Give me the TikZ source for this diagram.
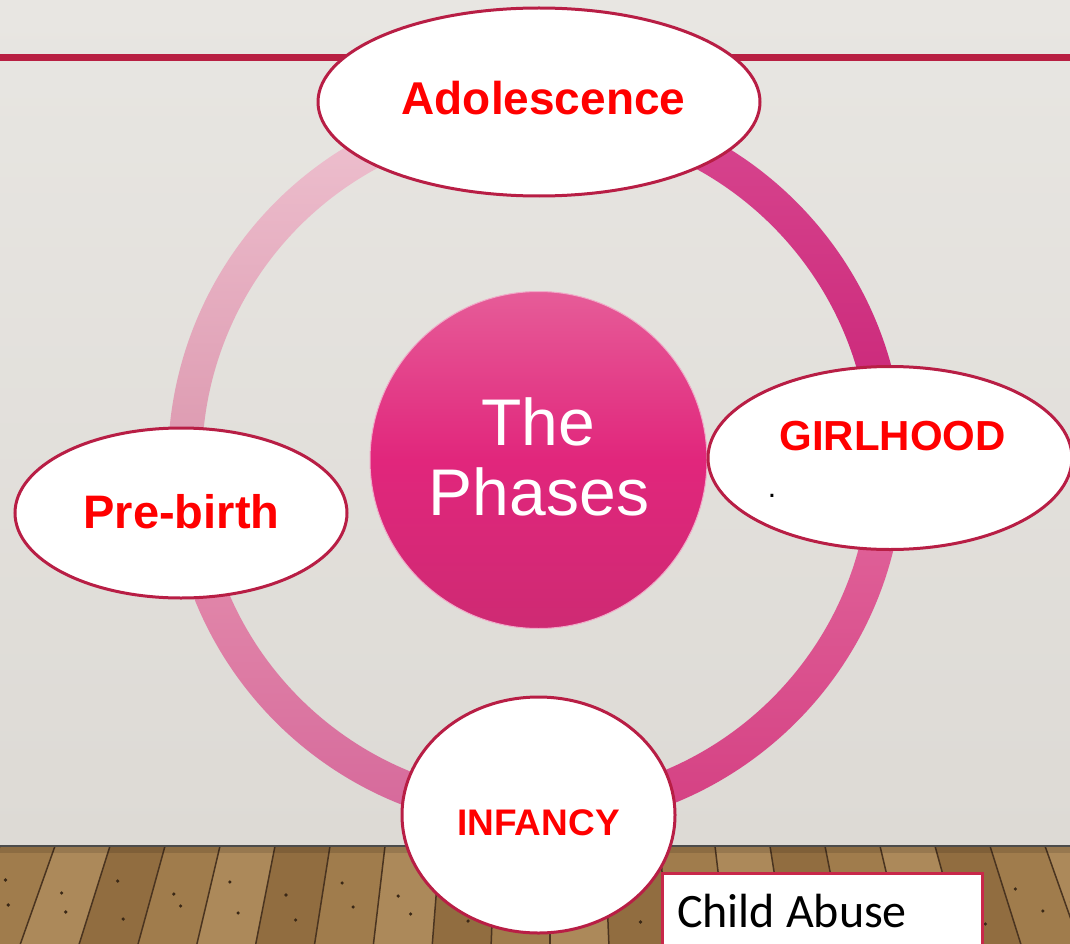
\documentclass[tikz,border=0pt]{standalone}
\usepackage{fontspec}
\setmainfont{Liberation Sans}
\newfontfamily\carlito{Carlito}
\usetikzlibrary{shapes.geometric}
\definecolor{wallTop}{HTML}{E8E6E2}
\definecolor{wallBot}{HTML}{DDDAD5}
\definecolor{rulered}{HTML}{B81F42}
\definecolor{edgered}{HTML}{B81E45}
\definecolor{labred}{HTML}{FF0000}
\definecolor{woodA}{HTML}{A07C4C}
\definecolor{woodB}{HTML}{916D40}
\definecolor{woodC}{HTML}{AC895A}
\definecolor{gap}{HTML}{4A3420}
\definecolor{nail}{HTML}{3A2816}
\definecolor{boxred}{HTML}{C8284A}
\tikzset{
  phase/.style={ellipse, draw=edgered, line width=3pt, fill=white, inner sep=0pt},
  phaselabel/.style={anchor=base, text=labred, font=\fontsize{46}{54}\selectfont\bfseries, inner sep=0pt},
  sector/.style={draw=none},
}
\begin{document}
\begin{tikzpicture}[x=1pt,y=-1pt]
\useasboundingbox (0,0) rectangle (1070,944);
\clip (0,0) rectangle (1070,944);
% wall
\shade[top color=wallTop, bottom color=wallBot] (0,0) rectangle (1070,846);
% floor planks
\foreach \i in {-1,...,20}{
  \pgfmathsetmacro{\xa}{\i*55}
  \pgfmathsetmacro{\xb}{\xa+55}
  \pgfmathsetmacro{\ba}{\xa+0.07*(\xa-550)}
  \pgfmathsetmacro{\bb}{\xb+0.07*(\xb-550)}
  \pgfmathtruncatemacro{\m}{mod(\i+3,3)}
  \ifnum\m=0 \def\wc{woodA}\fi
  \ifnum\m=1 \def\wc{woodC}\fi
  \ifnum\m=2 \def\wc{woodB}\fi
  \fill[\wc] (\xa,846) -- (\xb,846) -- (\bb,944) -- (\ba,944) -- cycle;
  \draw[gap, line width=1.5pt] (\xa,846) -- (\ba,944);
  \pgfmathsetmacro{\na}{\xa+0.3*55+0.02*(\xa-550)}
  \pgfmathsetmacro{\nb}{\xa+0.6*55+0.045*(\xa-550)}
  \pgfmathsetmacro{\ya}{880+mod(\i*13,25)}
  \pgfmathsetmacro{\yb}{905+mod(\i*7,20)}
  \fill[nail] (\na,\ya) circle (1.8);
  \fill[nail] (\nb,\yb) circle (1.8);
}
\shade[top color=black, bottom color=black, opacity=0.12] (0,846) rectangle (1070,852);
\draw[black!70, line width=2pt] (0,846) -- (1070,846);
% red rule
\draw[rulered, line width=6.5pt] (0,57.5) -- (1070,57.5);
% ring sectors
\def\cx{536}\def\cy{462}\def\ro{368}\def\ri{334}
\shade[sector, top color={rgb,255:red,239;green,195;blue,209}, bottom color={rgb,255:red,218;green,147;blue,171}]
  ([shift={(\cx,\cy)}]172:\ro) arc[start angle=172, end angle=270, radius=\ro]
  -- ([shift={(\cx,\cy)}]270:\ri) arc[start angle=270, end angle=172, radius=\ri] -- cycle;
\shade[sector, top color={rgb,255:red,229;green,144;blue,174}, bottom color={rgb,255:red,213;green,103;blue,154}]
  ([shift={(\cx,\cy)}]90:\ro) arc[start angle=90, end angle=172, radius=\ro]
  -- ([shift={(\cx,\cy)}]172:\ri) arc[start angle=172, end angle=90, radius=\ri] -- cycle;
\shade[sector, top color={rgb,255:red,226;green,104;blue,157}, bottom color={rgb,255:red,212;green,63;blue,130}]
  ([shift={(\cx,\cy)}]0:\ro) arc[start angle=0, end angle=90, radius=\ro]
  -- ([shift={(\cx,\cy)}]90:\ri) arc[start angle=90, end angle=0, radius=\ri] -- cycle;
\shade[sector, top color={rgb,255:red,216;green,72;blue,144}, bottom color={rgb,255:red,201;green,34;blue,118}]
  ([shift={(\cx,\cy)}]-90:\ro) arc[start angle=-90, end angle=0, radius=\ro]
  -- ([shift={(\cx,\cy)}]0:\ri) arc[start angle=0, end angle=-90, radius=\ri] -- cycle;
% centre circle
\node[circle, minimum size=337pt, inner sep=0pt, draw={rgb,255:red,240;green,170;blue,200}, line width=1pt,
  top color={rgb,255:red,230;green,92;blue,152}, bottom color={rgb,255:red,206;green,42;blue,115},
  middle color={rgb,255:red,225;green,38;blue,124}] (phases) at (538.5,460) {};
\node[anchor=base, text=white, font=\fontsize{66}{70}\selectfont, inner sep=0pt] (the) at (538,445) {The};
\node[anchor=base, text=white, font=\fontsize{66}{70}\selectfont, inner sep=0pt] (phtext) at (539,515) {Phases};
% phase ellipses
\node[phase, minimum width=442pt, minimum height=188pt] (adol) at (539,102) {};
\node[phaselabel] (adoltext) at (543.5,115) {Adolescence};
\node[phase, minimum width=332pt, minimum height=170pt] (pre) at (181,513) {};
\node[phaselabel, font=\fontsize{47}{54}\selectfont\bfseries] (pretext) at (181.5,528) {Pre-birth};
\node[phase, minimum width=364pt, minimum height=183pt] (girl) at (890,458) {};
\node[phaselabel, font=\fontsize{42}{50}\selectfont\bfseries] (girltext) at (892.5,450) {GIRLHOOD};
\node[anchor=base, inner sep=0pt, font=\fontsize{30}{34}\selectfont] (dot) at (772,497) {.};
\node[phase, minimum width=273pt, minimum height=236pt] (inf) at (538.5,815) {};
\node[phaselabel, font=\fontsize{37}{44}\selectfont\bfseries] (inftext) at (538.5,835) {INFANCY};
% child abuse box
\draw[boxred, line width=3pt, fill=white] (662,873) rectangle (982,960);
\node[anchor=base west, inner sep=0pt, font=\carlito\fontsize{48}{56}\selectfont] (child) at (677,927) {Child Abuse};
\end{tikzpicture}
\end{document}
